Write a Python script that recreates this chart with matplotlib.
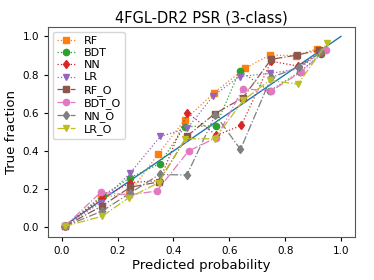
import numpy as np
import matplotlib
matplotlib.use("Agg")
import matplotlib.pyplot as plt

# ── Data (mean predicted probability, fraction of positives) ────────────────
names = ["RF", "BDT", "NN", "LR", "RF_O", "BDT_O", "NN_O", "LR_O"]

x_rf    = [0.01, 0.14, 0.24, 0.345, 0.44, 0.546, 0.655, 0.744, 0.84, 0.913]
y_rf    = [0.005, 0.157, 0.176, 0.384, 0.562, 0.705, 0.832, 0.902, 0.90, 0.935]
x_bdt   = [0.01, 0.146, 0.245, 0.35, 0.44, 0.552, 0.637, 0.744, 0.853, 0.93]
y_bdt   = [0.005, 0.166, 0.26, 0.333, 0.527, 0.532, 0.82, 0.714, 0.815, 0.91]
x_nn    = [0.01, 0.143, 0.245, 0.35, 0.45, 0.554, 0.643, 0.75, 0.845, 0.93]
y_nn    = [0.005, 0.152, 0.234, 0.245, 0.60, 0.482, 0.534, 0.87, 0.845, 0.915]
x_lr    = [0.01, 0.14, 0.244, 0.353, 0.45, 0.543, 0.637, 0.744, 0.85, 0.93]
y_lr    = [0.005, 0.13, 0.283, 0.476, 0.519, 0.69, 0.79, 0.806, 0.83, 0.92]
x_rfo   = [0.01, 0.144, 0.245, 0.347, 0.45, 0.548, 0.649, 0.75, 0.842, 0.92]
y_rfo   = [0.005, 0.112, 0.21, 0.238, 0.48, 0.595, 0.679, 0.88, 0.902, 0.928]
x_bdto  = [0.01, 0.14, 0.24, 0.34, 0.454, 0.554, 0.649, 0.75, 0.856, 0.948]
y_bdto  = [0.005, 0.184, 0.17, 0.19, 0.40, 0.47, 0.726, 0.714, 0.813, 0.93]
x_nno   = [0.01, 0.144, 0.245, 0.35, 0.448, 0.55, 0.64, 0.75, 0.85, 0.93]
y_nno   = [0.005, 0.085, 0.18, 0.277, 0.274, 0.59, 0.408, 0.785, 0.84, 0.92]
x_lro   = [0.01, 0.144, 0.24, 0.347, 0.442, 0.548, 0.65, 0.744, 0.846, 0.95]
y_lro   = [0.005, 0.058, 0.155, 0.234, 0.464, 0.464, 0.665, 0.77, 0.75, 0.965]

series = [
    (x_rf, y_rf, "s", ":"),
    (x_bdt, y_bdt, "o", ":"),
    (x_nn, y_nn, "d", ":"),
    (x_lr, y_lr, "v", ":"),
    (x_rfo, y_rfo, "s", "-."),
    (x_bdto, y_bdto, "o", "-."),
    (x_nno, y_nno, "d", "-."),
    (x_lro, y_lro, "v", "-."),
]
colors = ["C1", "C2", "C3", "C4", "C5", "C6", "C7", "C8"]

fig = plt.figure(figsize=(3.74, 2.8), dpi=100)
ax = fig.add_axes([0.128, 0.154, 0.821, 0.75])

# perfectly calibrated reference
ax.plot([0, 1], [0, 1], color="C0", lw=1.0)

for (xs, ys, mk, ls), name, c in zip(series, names, colors):
    ax.plot(xs, ys, marker=mk, ls=ls, color=c, lw=0.9, ms=4.5, label=name)

ax.set_xticks(np.arange(0, 1.01, 0.2))
ax.set_yticks(np.arange(0, 1.01, 0.2))
ax.tick_params(labelsize=7.5, length=3)
ax.set_xlabel("Predicted probability", fontsize=9.5, labelpad=2)
ax.set_ylabel("True fraction", fontsize=9.5, labelpad=3)
ax.set_title("4FGL-DR2 PSR (3-class)", fontsize=10.5, pad=3)
for s in ax.spines.values():
    s.set_color("#555555")
ax.legend(loc="upper left", fontsize=8, handlelength=1.6, labelspacing=0.2,
          borderpad=0.35, handletextpad=0.8, borderaxespad=0.45)

fig.savefig("out.png", dpi=100)
